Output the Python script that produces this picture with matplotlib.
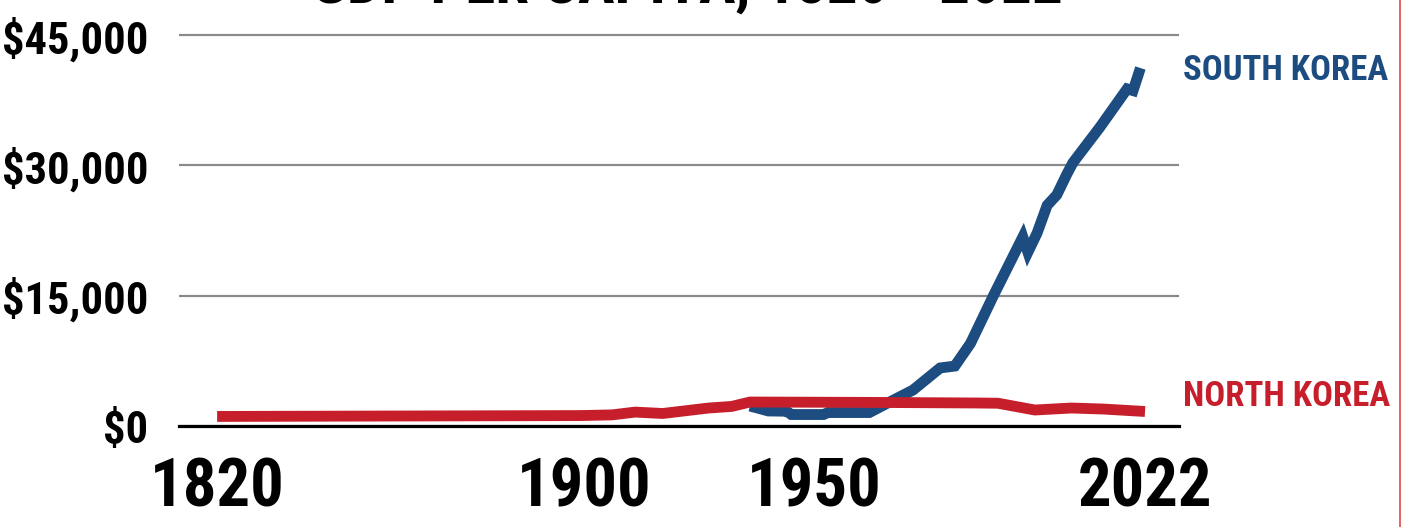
import matplotlib
matplotlib.use("Agg")
import matplotlib.pyplot as plt
from matplotlib import font_manager
from matplotlib.lines import Line2D

# GDP per capita, US$
north_years = [1820, 1899, 1906, 1911, 1917, 1927, 1932, 1936, 1960, 1985, 1990, 1998, 2006, 2013, 2022]
north_gdp = [1100, 1200, 1280, 1600, 1440, 2070, 2250, 2760, 2720, 2650, 2620, 1840, 2070, 1950, 1670]

south_years = [1936, 1940, 1944, 1945, 1952, 1953, 1962, 1966, 1971.5, 1977.4, 1980.6, 1984, 1989,
               1995.4, 1996.5, 1998.5, 2000.7, 2002.8, 2005, 2006.3, 2012.2, 2018.1, 2019.4, 2021]
south_gdp = [2300, 1730, 1700, 1320, 1320, 1550, 1550, 2650, 4140, 6680, 6900, 9500, 15000,
             21760, 20000, 22200, 25400, 26600, 29000, 30300, 34400, 38800, 38600, 41200]

year_ticks = [1820, 1900, 1950, 2022]
gdp_ticks = [0, 15000, 30000, 45000]
gdp_labels = ["\\$0", "\\$15,000", "\\$30,000", "\\$45,000"]

BLUE = "#1c4c80"
RED = "#c61f2b"


def pick_font(names):
    have = {f.name for f in font_manager.fontManager.ttflist}
    for n in names:
        if n in have:
            return n
    return "DejaVu Sans"


font = pick_font(["Liberation Sans Narrow", "Roboto Condensed", "DejaVu Sans"])
plt.rcParams["font.family"] = [font, "DejaVu Sans"]
plt.rcParams["font.weight"] = "bold"

W, H = 1401, 527
fig = plt.figure(figsize=(W / 100, H / 100), dpi=100)
fig.patch.set_facecolor("white")

# axes: x 179..1179 px, $0 at y=426 px
ax = fig.add_axes([179 / W, (H - 426) / H, 1000 / W, 393.6 / H])
ax.set_xlim(1811.7, 2029.4)
ax.set_ylim(0, 45300)

ax.plot(south_years, south_gdp, color=BLUE, lw=7.8, solid_capstyle="butt", solid_joinstyle="miter", zorder=3)
ax.plot(north_years, north_gdp, color=RED, lw=7.8, solid_capstyle="butt", solid_joinstyle="round", zorder=4)

ax.set_yticks(gdp_ticks)
ax.set_yticklabels(gdp_labels)
ax.set_xticks(year_ticks)
ax.set_xticklabels([str(y) for y in year_ticks])
ax.yaxis.grid(True, color="#8a8a8a", lw=1.6)
ax.set_axisbelow(True)

for s in ["top", "left", "right"]:
    ax.spines[s].set_visible(False)
ax.spines["bottom"].set_color("black")
ax.spines["bottom"].set_linewidth(2.3)
ax.spines["bottom"].set_zorder(5)

ax.tick_params(axis="both", length=0)
ax.tick_params(axis="y", labelsize=32, pad=22)
ax.tick_params(axis="x", labelsize=48, pad=22)

# series labels on the right
fig.text(1183 / W, 1 - 70 / H, "SOUTH KOREA", color=BLUE, fontsize=25, fontweight="bold", va="center", ha="left")
fig.text(1183 / W, 1 - 397 / H, "NORTH KOREA", color=RED, fontsize=25, fontweight="bold", va="center", ha="left")

# title runs off the top edge
fig.text(687 / W, 1 - 3 / H, "GDP PER CAPITA, 1820 - 2022", fontsize=44, fontweight="bold",
         ha="center", va="baseline")

# thin red frame line at the right edge
fig.add_artist(Line2D([1399.5 / W, 1399.5 / W], [0, 1], transform=fig.transFigure, color="#e04848", lw=1.2))

fig.savefig("out.png", dpi=100, facecolor="white")
